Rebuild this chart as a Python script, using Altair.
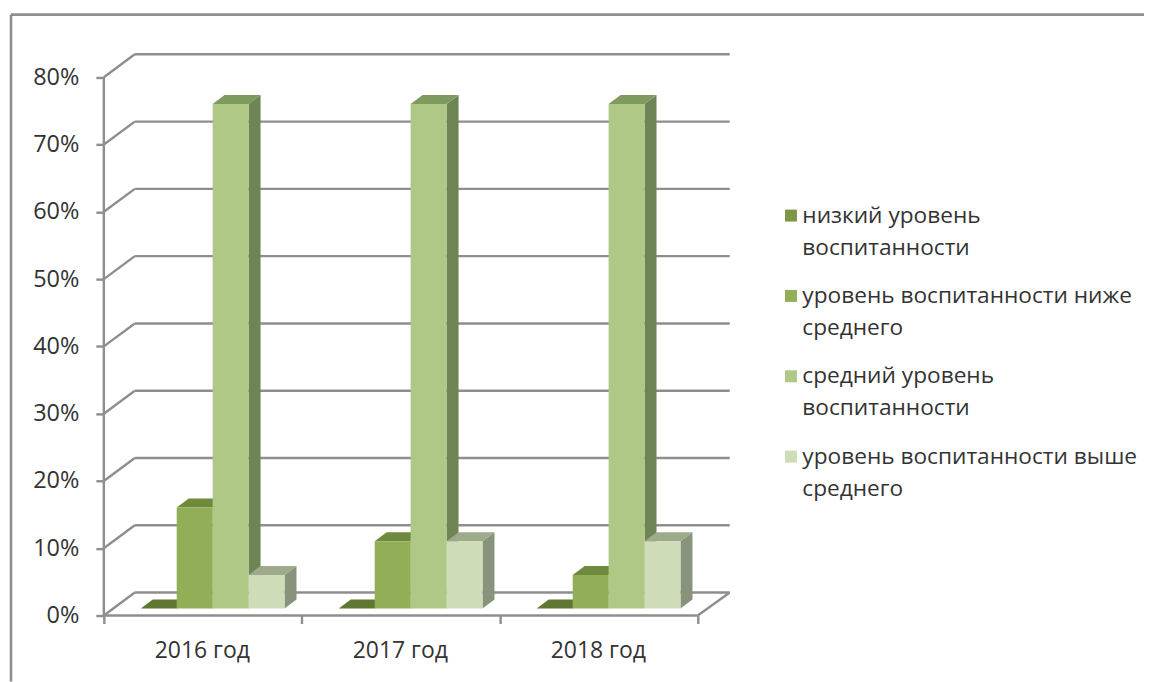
import json
import altair as alt
import pandas as pd

years = ["2016 год", "2017 год", "2018 год"]
series = ["низкий уровень\nвоспитанности", "уровень воспитанности ниже\nсреднего",
          "средний уровень\nвоспитанности", "уровень воспитанности выше\nсреднего"]
values = [[0, 15, 75, 5], [0, 10, 75, 10], [0, 5, 75, 10]]
front_colors = ["#7e9745", "#92af57", "#afc886", "#cfdcb8"]
top_colors = ["#5f7731", "#6f8a3c", "#7f9a5f", "#9eab8a"]
side_colors = ["#5a6f30", "#647c38", "#6f8455", "#87937a"]
y_ticks = [0, 10, 20, 30, 40, 50, 60, 70, 80]

FONT = "Open Sans"
GRID = "#8e8e8e"
PX_X = 198.33   # pixels per category
PX_Y = 6.74     # pixels per percent
W, H = 627, 562
XMAX, YMAX = W / PX_X, H / PX_Y
WALL_X, WALL_Y = 31 / PX_X, 23 / PX_Y
DEP_X, DEP_Y = 12 / PX_X, 9 / PX_Y
BASE = 1.04
BAR0, BARW = 0.1866, 0.1815
LINE_H = 32

front, top, side = [], [], []
for g, row in enumerate(values):
    for s, v in enumerate(row):
        x0 = g + BAR0 + s * BARW
        x1 = x0 + BARW
        key = f"{g}-{s}"
        front.append(dict(x=x0, x2=x1, y=BASE, y2=BASE + v, name=series[s]))
        for k, (a, b) in enumerate([(x0, x1), (x0 + DEP_X, x1 + DEP_X)]):
            top.append(dict(key=key, x=a, x2=b, y=BASE + v + k * DEP_Y, c=top_colors[s]))
        for k in range(2):
            side.append(dict(key=key, x=x1 + k * DEP_X, y=BASE + k * DEP_Y,
                             y2=BASE + v + k * DEP_Y, c=side_colors[s]))

xs = alt.Scale(domain=[0, XMAX], nice=False, zero=False)
ys = alt.Scale(domain=[0, YMAX], nice=False, zero=False)

wall = pd.DataFrame([dict(x=WALL_X, x2=XMAX, y=t + WALL_Y, y2=t + WALL_Y) for t in y_ticks]
                    + [dict(x=0, x2=WALL_X, y=t, y2=t + WALL_Y) for t in y_ticks]
                    + [dict(x=0, x2=3, y=0, y2=0),
                       dict(x=3, x2=XMAX, y=0, y2=WALL_Y),
                       dict(x=0, x2=0, y=0, y2=80)])
grid = alt.Chart(wall).mark_rule(color=GRID, strokeWidth=2.4).encode(
    x=alt.X("x:Q", scale=xs, axis=None), x2="x2:Q",
    y=alt.Y("y:Q", scale=ys, axis=None), y2="y2:Q")

frame_x, frame_y = -93 / PX_X, 602 / PX_Y
frame = alt.Chart(pd.DataFrame([
    dict(x=frame_x, x2=1042 / PX_X, y=frame_y, y2=frame_y),
    dict(x=frame_x, x2=frame_x, y=frame_y, y2=-66 / PX_Y)])).mark_rule(
    color=GRID, strokeWidth=2.6).encode(
    x=alt.X("x:Q", scale=xs, axis=None), x2="x2:Q",
    y=alt.Y("y:Q", scale=ys, axis=None), y2="y2:Q")

side_l = alt.Chart(pd.DataFrame(side)).mark_area(orient="vertical", opacity=1).encode(
    x=alt.X("x:Q", scale=xs, axis=None, stack=None),
    y=alt.Y("y:Q", scale=ys, axis=None, stack=None), y2="y2:Q",
    fill=alt.Fill("c:N", scale=alt.Scale(domain=side_colors, range=side_colors), legend=None),
    detail="key:N")

top_l = alt.Chart(pd.DataFrame(top)).mark_area(orient="horizontal", opacity=1).encode(
    y=alt.Y("y:Q", scale=ys, axis=None, stack=None),
    x=alt.X("x:Q", scale=xs, axis=None, stack=None), x2="x2:Q",
    fill=alt.Fill("c:N", scale=alt.Scale(domain=top_colors, range=top_colors), legend=None),
    detail="key:N")

legend = alt.Legend(title=None, orient="none", legendX=677, legendY=150,
                    labelExpr="split(datum.label, '\\n')", labelLimit=500,
                    labelFont=FONT, labelFontSize=22.7, labelColor="#333333",
                    symbolType="square", symbolSize=144, symbolStrokeWidth=0,
                    rowPadding=24.5, labelOffset=0)
front_l = alt.Chart(pd.DataFrame(front)).mark_rect().encode(
    x=alt.X("x:Q", scale=xs, axis=None), x2="x2:Q",
    y=alt.Y("y:Q", scale=ys, axis=alt.Axis(
        orient="left", values=y_ticks, title=None, domain=False, grid=False, tickSize=8, tickWidth=2.4,
        tickColor=GRID, labelFont=FONT, labelFontSize=23.5, labelColor="#333333",
        labelPadding=17, labelExpr="datum.value + '%'")),
    y2="y2:Q",
    fill=alt.Fill("name:N", scale=alt.Scale(domain=series, range=front_colors), legend=legend,
                  sort=series))

lab_ax = alt.Chart(pd.DataFrame({"x": [0.5, 1.5, 2.5]})).mark_point(opacity=0).encode(
    x=alt.X("x:Q", scale=xs, axis=alt.Axis(
        orient="bottom", values=[0.5, 1.5, 2.5], title=None, domain=False, grid=False, ticks=False,
        labelFont=FONT, labelFontSize=23, labelColor="#333333", labelPadding=24, labelOffset=-1,
        labelExpr=json.dumps(years, ensure_ascii=False) + "[floor(datum.value)]")))
tick_ax = alt.Chart(pd.DataFrame({"x": [0, 1, 2, 3]})).mark_point(opacity=0).encode(
    x=alt.X("x:Q", scale=xs, axis=alt.Axis(
        orient="bottom", values=[0, 1, 2, 3], title=None, domain=False, grid=False, labels=False,
        tickSize=8, tickWidth=2.4, tickColor=GRID)))

chart = alt.layer(frame, grid, side_l, top_l, front_l, lab_ax, tick_ax).resolve_axis(
    x="independent", y="independent").resolve_scale(fill="independent").properties(
    width=W, height=H, padding={"left": 1, "top": 4, "right": 0, "bottom": 0},
    background="#ffffff").configure(
    view=alt.ViewConfig(stroke="transparent"),
    style={"guide-label": {"lineHeight": LINE_H}})

chart.save("out.html", embed_options={"renderer": "svg", "actions": False})
